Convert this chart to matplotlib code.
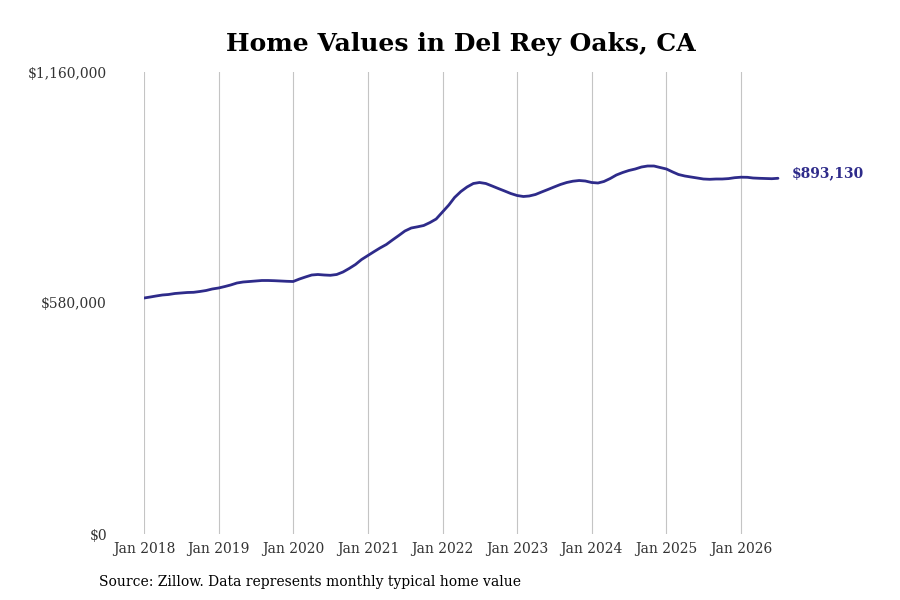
import matplotlib
matplotlib.use("Agg")
import matplotlib.pyplot as plt
import matplotlib.dates as mdates
import matplotlib.ticker as mticker
import pandas as pd

# monthly typical home value, Jan 2018 .. Jul 2026
values_2018 = [592500, 595060, 597570, 600080, 601340, 603850, 605100, 606360, 606860, 608870, 611380, 615150]
values_2019 = [617660, 621420, 625190, 630210, 632720, 633980, 635230, 636490, 636490, 635990, 635230, 634480]
values_2020 = [633980, 640250, 645280, 650300, 651550, 650300, 649540, 651550, 657830, 666620, 676660, 689210]
values_2021 = [699260, 709300, 718090, 726880, 738180, 749470, 760770, 768300, 771320, 774580, 782110, 790900]
values_2022 = [808480, 826050, 844880, 859950, 871250, 880040, 882550, 880040, 873760, 867480, 861210, 854930]
values_2023 = [849910, 847400, 848650, 852420, 858690, 864970, 871250, 877530, 882550, 885810, 887570, 886310]
values_2024 = [882550, 881290, 885060, 892590, 901380, 907660, 912680, 916440, 921460, 923970, 923970, 920210]
values_2025 = [916440, 908910, 902640, 898870, 896360, 893850, 891340, 890580, 891340, 891340, 892340, 894600]
values_2026 = [895860, 895600, 893850, 893100, 892590, 892090, 893130]

values = (values_2018 + values_2019 + values_2020 + values_2021 + values_2022
          + values_2023 + values_2024 + values_2025 + values_2026)
dates = pd.date_range("2018-01-01", periods=len(values), freq="MS")

y_ticks = [0, 580000, 1160000]
x_tick_years = list(range(2018, 2027))

line_color = "#2e2b8a"
plt.rcParams["font.family"] = ["DejaVu Serif"]

fig = plt.figure(figsize=(9, 6), dpi=100)
ax = fig.add_axes([144 / 900, 66 / 600, (880 - 144) / 900, 462 / 600])

ax.plot(dates, values, color=line_color, linewidth=2.0, solid_capstyle="round")

x0 = mdates.date2num(pd.Timestamp("2018-01-01"))
x8 = mdates.date2num(pd.Timestamp("2026-01-01"))
x_right = x0 + (880 - 144) / (741 - 144) * (x8 - x0)
ax.set_xlim(x0, x_right)
ax.set_ylim(0, 1160000)

ax.set_xticks([pd.Timestamp(f"{y}-01-01") for y in x_tick_years])
ax.set_xticklabels([f"Jan {y}" for y in x_tick_years])
ax.set_yticks(y_ticks)
ax.yaxis.set_major_formatter(mticker.FuncFormatter(lambda v, p: f"${v:,.0f}"))

for s in ax.spines.values():
    s.set_visible(False)
ax.tick_params(axis="x", length=0, pad=6, labelsize=10, labelcolor="#333333")
ax.tick_params(axis="y", length=0, pad=37 * 0.72, labelsize=10, labelcolor="#333333")
ax.grid(axis="x", color="#c4c4c4", linewidth=0.8)
ax.grid(axis="y", visible=False)
ax.set_axisbelow(True)

ax.annotate(f"${values[-1]:,.0f}", xy=(dates[-1], values[-1]), xytext=(10, 4),
            textcoords="offset points", va="center", ha="left",
            color=line_color, fontsize=10, fontweight="bold")

fig.text(461 / 900, 1 - 44 / 600, "Home Values in Del Rey Oaks, CA",
         ha="center", va="center", fontsize=18, fontweight="bold", color="black")
fig.text(99 / 900, 1 - 582 / 600, "Source: Zillow. Data represents monthly typical home value",
         ha="left", va="center", fontsize=10, color="black")

fig.savefig("out.png", dpi=100)
